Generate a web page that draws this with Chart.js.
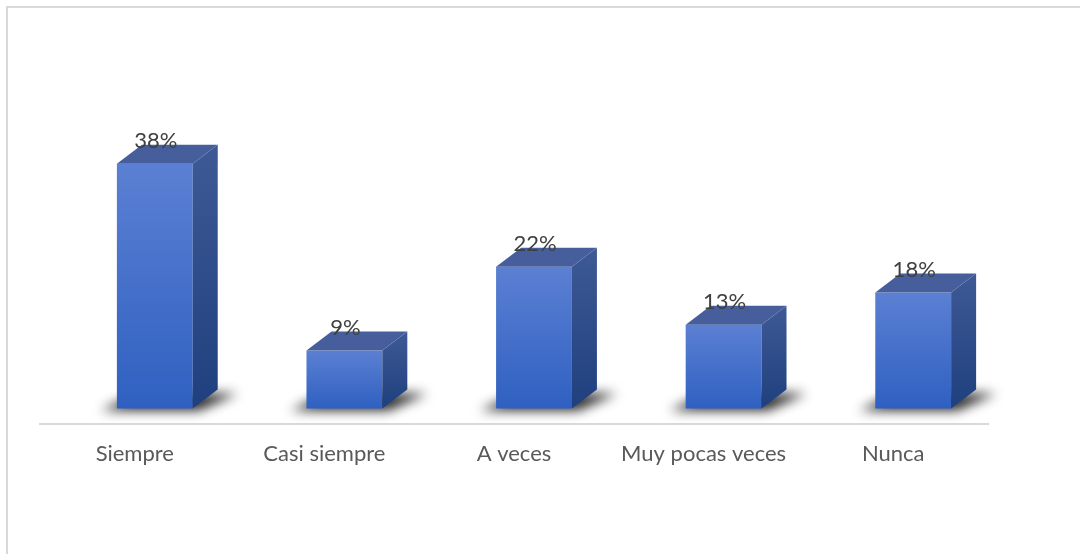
<!DOCTYPE html>
<html>
<head>
<meta charset="utf-8">
<script src="https://cdn.jsdelivr.net/npm/chart.js@4"></script>
<style>
    html, body { margin: 0; padding: 0; background: #fff; }
    #wrap { position: relative; width: 1080px; height: 554px; }
    #frame {
        position: absolute; left: 6px; top: 6px; right: 0; bottom: 0;
        border-top: 2px solid #d9d9d9; border-left: 2px solid #d9d9d9;
        pointer-events: none;
    }
</style>
</head>
<body>
<div id="wrap">
    <canvas id="chart" width="1080" height="554"></canvas>
    <div id="frame"></div>
</div>
<script>
const categories = ['Siempre', 'Casi siempre', 'A veces', 'Muy pocas veces', 'Nunca'];
const percentages = [38, 9, 22, 13, 18];

// 3D box look (Excel style)
const depthX = 25;
const depthY = 19;
const shiftX = 20;

const box3d = {
    id: 'box3d',
    afterDatasetsDraw(chart) {
        const ctx = chart.ctx;
        const meta = chart.getDatasetMeta(0);
        meta.data.forEach((bar, i) => {
            const { x, y, base, width } = bar.getProps(['x', 'y', 'base', 'width'], true);
            const x0 = x - width / 2 + shiftX;
            const x1 = x + width / 2 + shiftX;

            // soft shadow under the box
            ctx.save();
            ctx.filter = 'blur(6px)';
            ctx.fillStyle = 'rgba(0,0,0,0.85)';
            ctx.beginPath();
            ctx.moveTo(x0 - 16, base + 2);
            ctx.lineTo(x1 + 6, base + 2);
            ctx.lineTo(x1 + depthX + 20, base - depthY + 4);
            ctx.lineTo(x0 + depthX - 4, base - depthY + 4);
            ctx.closePath();
            ctx.fill();
            ctx.restore();

            ctx.save();
            // front
            let g = ctx.createLinearGradient(0, y, 0, base);
            g.addColorStop(0, '#5b80d3');
            g.addColorStop(1, '#2f60c1');
            ctx.fillStyle = g;
            ctx.fillRect(x0, y, x1 - x0, base - y);

            // side
            g = ctx.createLinearGradient(0, y - depthY, 0, base);
            g.addColorStop(0, '#3e5a95');
            g.addColorStop(1, '#1f3f7e');
            ctx.fillStyle = g;
            ctx.beginPath();
            ctx.moveTo(x1, y);
            ctx.lineTo(x1 + depthX, y - depthY);
            ctx.lineTo(x1 + depthX, base - depthY);
            ctx.lineTo(x1, base);
            ctx.closePath();
            ctx.fill();

            // top
            ctx.fillStyle = '#465f9c';
            ctx.beginPath();
            ctx.moveTo(x0, y);
            ctx.lineTo(x0 + depthX, y - depthY);
            ctx.lineTo(x1 + depthX, y - depthY);
            ctx.lineTo(x1, y);
            ctx.closePath();
            ctx.fill();

            // value label
            ctx.fillStyle = '#404040';
            ctx.font = '22px Lato, "Open Sans", sans-serif';
            ctx.textAlign = 'center';
            ctx.textBaseline = 'alphabetic';
            ctx.fillText(percentages[i] + '%', (x0 + x1) / 2 + 1, y - 16);
            ctx.restore();
        });
    }
};

new Chart(document.getElementById('chart'), {
    type: 'bar',
    data: {
        labels: categories,
        datasets: [{
            data: percentages,
            backgroundColor: 'transparent',
            borderWidth: 0,
            categoryPercentage: 1,
            barPercentage: 0.4
        }]
    },
    options: {
        responsive: false,
        animation: false,
        events: [],
        layout: { padding: { top: 20, left: 40, right: 92, bottom: 70 } },
        plugins: {
            legend: { display: false },
            tooltip: { enabled: false }
        },
        scales: {
            x: {
                grid: { display: false, drawTicks: false },
                border: { display: true, color: '#d9d9d9', width: 2 },
                ticks: {
                    color: '#595959',
                    padding: 17,
                    font: { family: 'Lato, "Open Sans", sans-serif', size: 22 }
                }
            },
            y: {
                display: false,
                min: -2.34,
                max: 60.3
            }
        }
    },
    plugins: [box3d]
});
</script>
</body>
</html>
